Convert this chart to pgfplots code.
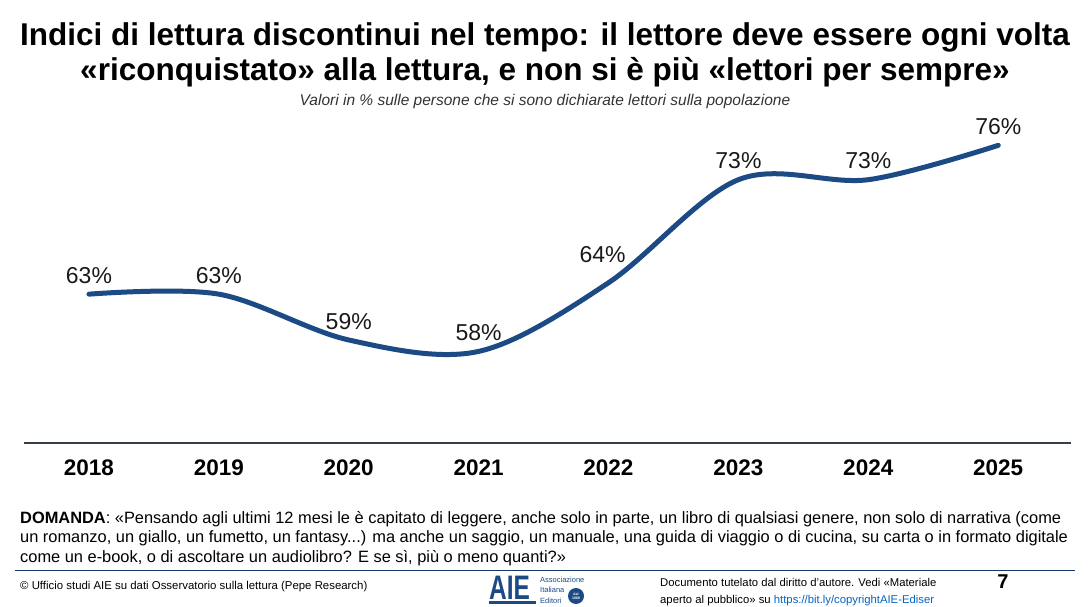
\documentclass[border=0pt]{standalone}
\usepackage{pgfplots}
\pgfplotsset{compat=1.18}
\usepackage{fontspec}
\setmainfont{Liberation Sans}
\definecolor{aieblue}{RGB}{28,74,132}
\definecolor{axisgray}{RGB}{55,62,75}
\definecolor{linkblue}{RGB}{5,99,193}

\begin{document}
\begin{tikzpicture}
% page frame 1091 x 607
\path[use as bounding box] (0pt,0pt) rectangle (1091pt,607pt);

% title and subtitle
\node[align=center, font=\fontsize{31.5}{35}\selectfont\bfseries] at (545pt,552pt)
  {Indici di lettura discontinui nel tempo: il lettore deve essere ogni volta\\
   «riconquistato» alla lettura, e non si è più «lettori per sempre»};
\node[font=\fontsize{15.5}{18}\selectfont\itshape, text=black!80] at (545pt,505pt)
  {Valori in \% sulle persone che si sono dichiarate lettori sulla popolazione};

\begin{axis}[
    at={(24pt,164pt)}, anchor=south west,
    scale only axis, width=1047pt, height=332pt,
    xmin=2017.5, xmax=2025.56,
    ymin=50, ymax=79,
    axis x line=bottom, axis y line=none,
    x axis line style={-, draw=axisgray, line width=1.2pt},
    xtick={2018,...,2025},
    xticklabels={2018,2019,2020,2021,2022,2023,2024,2025},
    major tick length=0pt,
    xticklabel style={font=\fontsize{22.5}{26}\selectfont\bfseries, yshift=-13pt},
    clip=false,
    /pgf/number format/assume math mode=true,
    point meta=y,
    every node near coord/.append style={font=\fontsize{23}{26}\selectfont, text=black!90, yshift=7pt},
]
\addplot[aieblue, line width=5pt, smooth, tension=0.55, line cap=round] coordinates {
    (2018,63) (2019,63) (2020,59) (2021,58) (2022,64) (2023,73) (2024,73) (2025,76)
};
% value labels
\addplot[draw=none, mark=none, nodes near coords={\pgfmathprintnumber{\pgfplotspointmeta}\%}] coordinates {
    (2018,63) (2019,63) (2020,59) (2021,58) (2023,73) (2024,73) (2025,76)
};
\addplot[draw=none, mark=none, nodes near coords={\pgfmathprintnumber{\pgfplotspointmeta}\%},
    every node near coord/.append style={xshift=-6pt, yshift=9pt}] coordinates {
    (2022,64)
};
\end{axis}

% question text
\node[anchor=north west, inner sep=0pt, align=left, font=\fontsize{16.4}{19.5}\selectfont] at (20pt,96pt)
  {\textbf{DOMANDA}: «Pensando agli ultimi 12 mesi le è capitato di leggere, anche solo in parte, un libro di qualsiasi genere, non solo di narrativa (come\\
   un romanzo, un giallo, un fumetto, un fantasy...) ma anche un saggio, un manuale, una guida di viaggio o di cucina, su carta o in formato digitale\\
   come un e-book, o di ascoltare un audiolibro? E se sì, più o meno quanti?»};

% footer rule
\draw[aieblue!80!black, line width=1pt] (15pt,36pt) -- (1075pt,36pt);

% footer left
\node[anchor=base west, inner sep=0pt, font=\fontsize{11.4}{13}\selectfont] at (20pt,17pt)
  {© Ufficio studi AIE su dati Osservatorio sulla lettura (Pepe Research)};

% logo
\node[anchor=base west, inner sep=0pt, text=aieblue, font=\fontsize{34}{34}\selectfont\bfseries, xscale=0.72] at (489pt,7pt) {AIE};
\fill[aieblue] (489pt,3pt) rectangle (536pt,5.5pt);
\node[anchor=base west, inner sep=0pt, text=aieblue, font=\fontsize{7.5}{9}\selectfont] at (540pt,24pt) {Associazione};
\node[anchor=base west, inner sep=0pt, text=aieblue, font=\fontsize{7.5}{9}\selectfont] at (540pt,14pt) {Italiana};
\node[anchor=base west, inner sep=0pt, text=aieblue, font=\fontsize{7.5}{9}\selectfont] at (540pt,4pt) {Editori};
\fill[aieblue] (576pt,11pt) circle (8pt);
\node[text=white, align=center, font=\fontsize{3.5}{4}\selectfont\bfseries, inner sep=0pt] at (576pt,11pt) {dal\\1869};

% footer right
\node[anchor=base west, inner sep=0pt, font=\fontsize{11.3}{13}\selectfont] at (660pt,20pt)
  {Documento tutelato dal diritto d'autore. Vedi «Materiale};
\node[anchor=base west, inner sep=0pt, font=\fontsize{11.3}{13}\selectfont] at (660pt,3pt)
  {aperto al pubblico» su \textcolor{linkblue}{\underline{https://bit.ly/copyrightAIE-Ediser}}};

% page number
\node[font=\fontsize{20}{22}\selectfont\bfseries] at (1003pt,25pt) {7};
\end{tikzpicture}
\end{document}
